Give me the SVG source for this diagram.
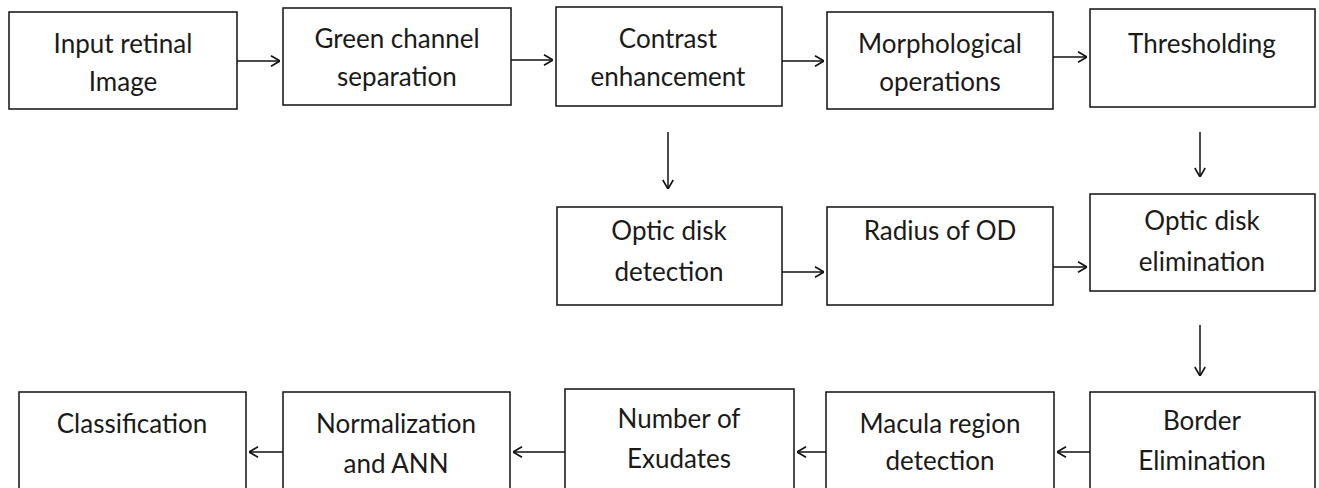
<svg xmlns="http://www.w3.org/2000/svg" width="1319" height="488" viewBox="0 0 1319 488">
<style>
.box{fill:#fff;stroke:#111;stroke-width:1.5}
.t{font-family:Lato,"Open Sans",sans-serif;font-size:26px;fill:#1a1a1a;text-anchor:middle}
.c{stroke:#111;stroke-width:1.5;fill:none}
</style>
<defs>
<marker id="ah" viewBox="0 0 10 12" refX="10" refY="6" markerWidth="10" markerHeight="12" markerUnits="userSpaceOnUse" orient="auto">
<path d="M1,0.8 L10,6 L1,11.2" fill="none" stroke="#111" stroke-width="1.6"/>
</marker>
</defs>
<rect width="1319" height="488" fill="#fff"/>
<g id="n1"><rect class="box" x="9" y="12" width="228" height="97"/><text class="t" x="123" y="53">Input retinal</text><text class="t" x="123" y="91">Image</text></g>
<g id="n2"><rect class="box" x="283" y="8" width="228" height="97"/><text class="t" x="397" y="48">Green channel</text><text class="t" x="397" y="86">separation</text></g>
<g id="n3"><rect class="box" x="556" y="7" width="226" height="99"/><text class="t" x="668" y="48">Contrast</text><text class="t" x="668" y="86">enhancement</text></g>
<g id="n4"><rect class="box" x="827" y="12" width="226" height="97"/><text class="t" x="940" y="53">Morphological</text><text class="t" x="940" y="91">operations</text></g>
<g id="n5"><rect class="box" x="1090" y="9" width="225" height="98"/><text class="t" x="1202" y="53">Thresholding</text></g>
<g id="n6"><rect class="box" x="557" y="207" width="225" height="98"/><text class="t" x="669" y="240">Optic disk</text><text class="t" x="669" y="281">detection</text></g>
<g id="n7"><rect class="box" x="827" y="207" width="226" height="98"/><text class="t" x="940" y="240">Radius of OD</text></g>
<g id="n8"><rect class="box" x="1090" y="194" width="225" height="97"/><text class="t" x="1202" y="230">Optic disk</text><text class="t" x="1202" y="271">elimination</text></g>
<g id="n9"><rect class="box" x="1090" y="392" width="225" height="110"/><text class="t" x="1202" y="430">Border</text><text class="t" x="1202" y="470">Elimination</text></g>
<g id="n10"><rect class="box" x="826" y="392" width="228" height="110"/><text class="t" x="940" y="433">Macula region</text><text class="t" x="940" y="470">detection</text></g>
<g id="n11"><rect class="box" x="565" y="389" width="229" height="110"/><text class="t" x="679" y="428">Number of</text><text class="t" x="679" y="468">Exudates</text></g>
<g id="n12"><rect class="box" x="283" y="392" width="227" height="110"/><text class="t" x="396" y="433">Normalization</text><text class="t" x="396" y="473">and ANN</text></g>
<g id="n13"><rect class="box" x="19" y="392" width="227" height="110"/><text class="t" x="132" y="433">Classification</text></g>
<g id="connectors" class="c">
<line x1="237" y1="61" x2="280" y2="61" marker-end="url(#ah)"/>
<line x1="511" y1="60" x2="553" y2="60" marker-end="url(#ah)"/>
<line x1="782" y1="61" x2="824" y2="61" marker-end="url(#ah)"/>
<line x1="1053" y1="57" x2="1087" y2="57" marker-end="url(#ah)"/>
<line x1="668" y1="132" x2="668" y2="189" marker-end="url(#ah)"/>
<line x1="1200" y1="132" x2="1200" y2="177" marker-end="url(#ah)"/>
<line x1="782" y1="272" x2="824" y2="272" marker-end="url(#ah)"/>
<line x1="1053" y1="267" x2="1087" y2="267" marker-end="url(#ah)"/>
<line x1="1200" y1="325" x2="1200" y2="376" marker-end="url(#ah)"/>
<line x1="1090" y1="452" x2="1057" y2="452" marker-end="url(#ah)"/>
<line x1="826" y1="452" x2="797" y2="452" marker-end="url(#ah)"/>
<line x1="565" y1="452" x2="513" y2="452" marker-end="url(#ah)"/>
<line x1="283" y1="452" x2="249" y2="452" marker-end="url(#ah)"/>
</g>
</svg>
